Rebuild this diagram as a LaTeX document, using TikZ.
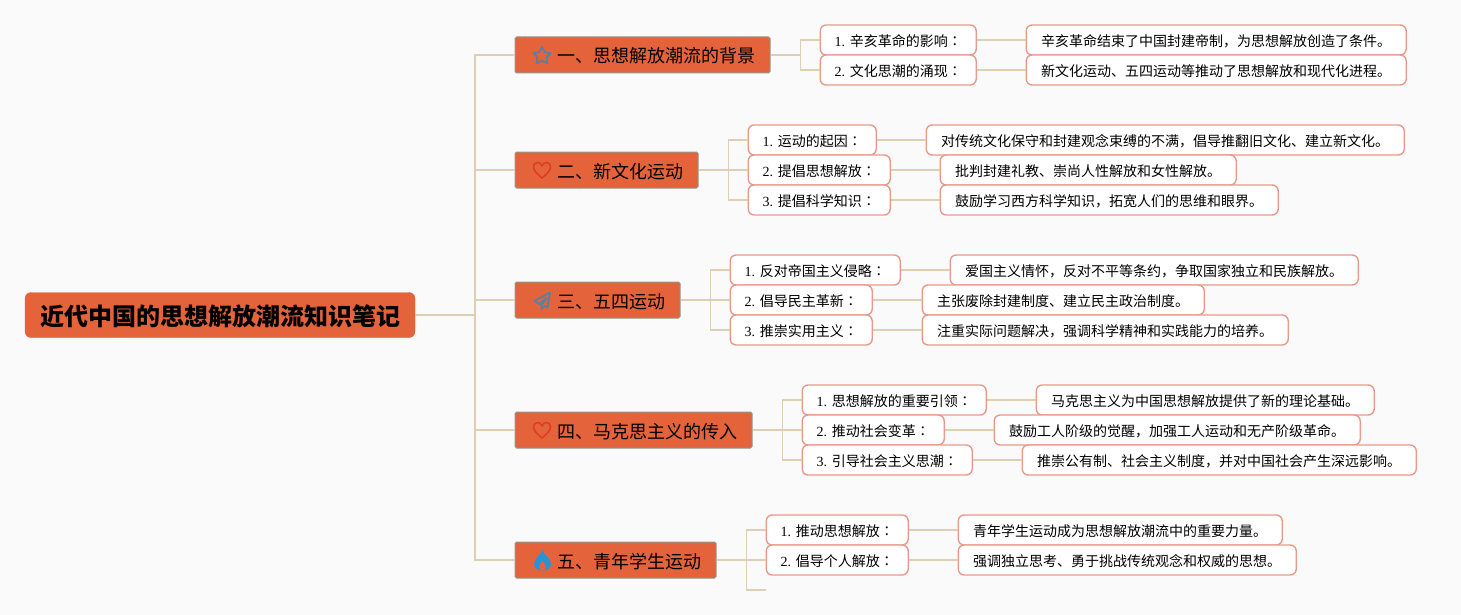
\documentclass[tikz,border=0pt]{standalone}
\usepackage{fontspec}
\setmainfont{Noto Sans CJK SC}
\newfontfamily\numfont{Liberation Serif}
\newfontfamily\colonfont{Noto Sans CJK TC}
\usetikzlibrary{calc,positioning,shapes.geometric}
\definecolor{fillorange}{HTML}{E4633A}
\definecolor{linktan}{HTML}{DDCFB4}
\definecolor{subedge}{HTML}{E8998A}
\definecolor{branchedge}{HTML}{8E9A8C}
\definecolor{iconblue}{HTML}{5B7F9E}
\definecolor{iconred}{HTML}{DE3B20}
\definecolor{flameblue}{HTML}{2A93D5}
\newcommand{\nm}[1]{{\numfont #1. }}
\newcommand{\cln}{{\colonfont ：}}
\tikzset{
 rootbox/.style={fill=fillorange,draw=fillorange,rounded corners=6pt,inner sep=0pt,minimum height=45pt,font=\fontsize{24}{28}\selectfont\bfseries,text height=24pt,text depth=3.2pt},
 branchbox/.style={fill=fillorange,draw=branchedge,line width=1pt,rounded corners=1.5pt,inner sep=0pt,minimum height=36pt,anchor=west,font=\fontsize{18}{22}\selectfont,text height=18pt,text depth=2pt},
 subbox/.style={fill=white,draw=subedge,line width=1.4pt,rounded corners=6pt,inner sep=0pt,minimum height=30pt,anchor=west,font=\fontsize{14}{18}\selectfont,text height=14.4pt,text depth=2pt},
 leafbox/.style={subbox},
 link/.style={draw=linktan,line width=1.8pt},
}
\begin{document}
\begin{tikzpicture}[x=1pt,y=-1pt]
\fill[white!98!black] (0,0) rectangle (1461,615);
\useasboundingbox (0,0) rectangle (1461,615);
% centre
\node[rootbox,minimum width=390pt] (root) at (220,315) {近代中国的思想解放潮流知识笔记};
% branches
\node[branchbox,minimum width=255pt] (b1) at (514.5,55) {\hspace{28pt}一、思想解放潮流的背景};
\node[branchbox,minimum width=183pt] (b2) at (514.5,170) {\hspace{28pt}二、新文化运动};
\node[branchbox,minimum width=165pt] (b3) at (514.5,300) {\hspace{28pt}三、五四运动};
\node[branchbox,minimum width=237pt] (b4) at (514.5,430) {\hspace{28pt}四、马克思主义的传入};
\node[branchbox,minimum width=201pt] (b5) at (514.5,560) {\hspace{28pt}五、青年学生运动};
% second level
\node[subbox,minimum width=156pt] (s11) at (819.5,40) {\nm{1}辛亥革命的影响\cln};
\node[subbox,minimum width=156pt] (s12) at (819.5,70) {\nm{2}文化思潮的涌现\cln};
\node[subbox,minimum width=128pt] (s21) at (747.5,140) {\nm{1}运动的起因\cln};
\node[subbox,minimum width=142pt] (s22) at (747.5,170) {\nm{2}提倡思想解放\cln};
\node[subbox,minimum width=142pt] (s23) at (747.5,200) {\nm{3}提倡科学知识\cln};
\node[subbox,minimum width=170pt] (s31) at (729.5,270) {\nm{1}反对帝国主义侵略\cln};
\node[subbox,minimum width=142pt] (s32) at (729.5,300) {\nm{2}倡导民主革新\cln};
\node[subbox,minimum width=142pt] (s33) at (729.5,330) {\nm{3}推崇实用主义\cln};
\node[subbox,minimum width=184pt] (s41) at (801.5,400) {\nm{1}思想解放的重要引领\cln};
\node[subbox,minimum width=142pt] (s42) at (801.5,430) {\nm{2}推动社会变革\cln};
\node[subbox,minimum width=170pt] (s43) at (801.5,460) {\nm{3}引导社会主义思潮\cln};
\node[subbox,minimum width=142pt] (s51) at (765.5,530) {\nm{1}推动思想解放\cln};
\node[subbox,minimum width=142pt] (s52) at (765.5,560) {\nm{2}倡导个人解放\cln};
\coordinate (s53) at (765.5,590);
% leaves
\node[leafbox,minimum width=380pt] (l11) at (1025.5,40) {辛亥革命结束了中国封建帝制，为思想解放创造了条件。};
\node[leafbox,minimum width=380pt] (l12) at (1025.5,70) {新文化运动、五四运动等推动了思想解放和现代化进程。};
\node[leafbox,minimum width=478pt] (l21) at (925.5,140) {对传统文化保守和封建观念束缚的不满，倡导推翻旧文化、建立新文化。};
\node[leafbox,minimum width=296pt] (l22) at (939.5,170) {批判封建礼教、崇尚人性解放和女性解放。};
\node[leafbox,minimum width=338pt] (l23) at (939.5,200) {鼓励学习西方科学知识，拓宽人们的思维和眼界。};
\node[leafbox,minimum width=408pt] (l31) at (949.5,270) {爱国主义情怀，反对不平等条约，争取国家独立和民族解放。};
\node[leafbox,minimum width=282pt] (l32) at (921.5,300) {主张废除封建制度、建立民主政治制度。};
\node[leafbox,minimum width=366pt] (l33) at (921.5,330) {注重实际问题解决，强调科学精神和实践能力的培养。};
\node[leafbox,minimum width=338pt] (l41) at (1035.5,400) {马克思主义为中国思想解放提供了新的理论基础。};
\node[leafbox,minimum width=366pt] (l42) at (993.5,430) {鼓励工人阶级的觉醒，加强工人运动和无产阶级革命。};
\node[leafbox,minimum width=394pt] (l43) at (1021.5,460) {推崇公有制、社会主义制度，并对中国社会产生深远影响。};
\node[leafbox,minimum width=324pt] (l51) at (957.5,530) {青年学生运动成为思想解放潮流中的重要力量。};
\node[leafbox,minimum width=338pt] (l52) at (957.5,560) {强调独立思考、勇于挑战传统观念和权威的思想。};
% connectors
\foreach \b in {b1,b2,b3,b4,b5}
 \draw[link] (root.east) -- ++(60,0) |- (\b.west);
\foreach \b/\s in {b1/s11,b1/s12,b2/s21,b2/s22,b2/s23,b3/s31,b3/s32,b3/s33,b4/s41,b4/s42,b4/s43,b5/s51,b5/s52,b5/s53}
 \draw[link] (\b.east) -- ++(30,0) |- (\s);
\foreach \s/\l in {s11/l11,s12/l12,s21/l21,s22/l22,s23/l23,s31/l31,s32/l32,s33/l33,s41/l41,s42/l42,s43/l43,s51/l51,s52/l52}
 \draw[link] (\s.east) -- (\l.west);
% icons
\node[star,star points=5,star point ratio=1.9,draw=iconblue,line width=1.8pt,line join=round,minimum size=18pt,inner sep=0pt] (star1) at (542,56) {};
\foreach \y in {170,430}
 \draw[iconred,line width=1.5pt,line join=round] (542,\y+8) .. controls (536,\y+3) and (533.5,\y) .. (533.5,\y-3) .. controls (533.5,\y-8.5) and (540.5,\y-9) .. (542,\y-4) .. controls (543.5,\y-9) and (550.5,\y-8.5) .. (550.5,\y-3) .. controls (550.5,\y) and (548,\y+3) .. (542,\y+8) -- cycle;
\draw[iconblue,line width=1.8pt,line join=round] (550,292.5) -- (534.5,301) -- (539.5,304) -- (546.5,298) -- (541.5,305) -- (541.5,309) -- (544.5,306) -- (547.5,307.5) -- cycle;
\fill[flameblue] (542.5,550) .. controls (543.5,555) and (551,558) .. (551,564) .. controls (551,568) and (547,570.5) .. (542.5,570.5) .. controls (538,570.5) and (534,568) .. (534,564) .. controls (534,558) and (541,555) .. (542.5,550) -- cycle;
\fill[fillorange] (542.5,561) .. controls (544,563.5) and (546,565) .. (546,567) .. controls (546,569) and (544.5,570.5) .. (542.5,570.5) .. controls (540.5,570.5) and (539,569) .. (539,567) .. controls (539,565) and (541,563.5) .. (542.5,561) -- cycle;
\end{tikzpicture}
\end{document}
